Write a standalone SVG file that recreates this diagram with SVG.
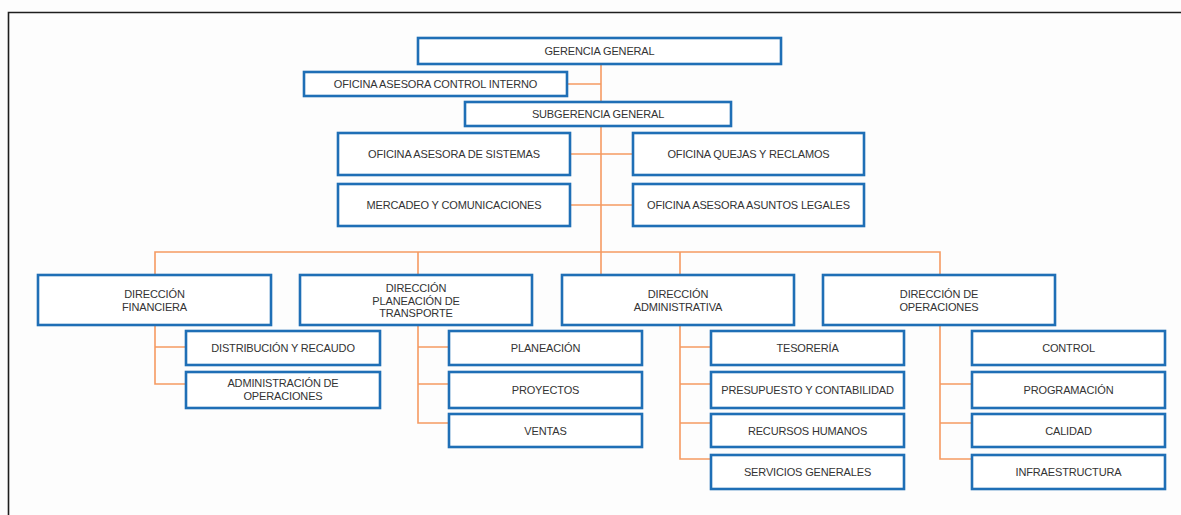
<svg xmlns="http://www.w3.org/2000/svg" width="1181" height="515" viewBox="0 0 1181 515">
<style>
.bx{fill:#ffffff;stroke:#1f6fb6;stroke-width:2.6}
.t{font-family:"Liberation Sans",Arial,sans-serif;font-size:11px;letter-spacing:-0.15px;fill:#333333;text-anchor:middle}
.c{fill:none;stroke:#f59a62;stroke-width:1.6}
</style>
<rect x="0" y="0" width="1181" height="515" fill="#fdfdfd"/>
<path d="M8.5 515 V12.5 H1181" fill="none" stroke="#1e1e1e" stroke-width="1.6"/>
<g id="connectors">
<path class="c" d="M601 64 V275"/>
<path class="c" d="M567 84 H601"/>
<path class="c" d="M570 154 H633 M570 205 H633"/>
<path class="c" d="M155 275 V252 H940 V275 M418 252 V275 M680 252 V275"/>
<path class="c" d="M155 325 V384 H186 M155 347 H186"/>
<path class="c" d="M418 325 V423 H449 M418 347 H449 M418 384 H449"/>
<path class="c" d="M680 325 V459 H711 M680 347 H711 M680 384 H711 M680 423 H711"/>
<path class="c" d="M940 325 V459 H972 M940 384 H972 M940 423 H972"/>
</g>
<g id="gerencia"><rect class="bx" x="418" y="38" width="363" height="26"/><text class="t" x="599.5" y="55">GERENCIA GENERAL</text></g>
<g id="control-interno"><rect class="bx" x="304" y="72" width="263" height="24"/><text class="t" x="435.5" y="88">OFICINA ASESORA CONTROL INTERNO</text></g>
<g id="subgerencia"><rect class="bx" x="465" y="102" width="266" height="24"/><text class="t" x="598" y="118">SUBGERENCIA GENERAL</text></g>
<g id="sistemas"><rect class="bx" x="338" y="133" width="232" height="42"/><text class="t" x="454" y="158">OFICINA ASESORA DE SISTEMAS</text></g>
<g id="quejas"><rect class="bx" x="633" y="133" width="231" height="42"/><text class="t" x="748.5" y="158">OFICINA QUEJAS Y RECLAMOS</text></g>
<g id="mercadeo"><rect class="bx" x="338" y="184" width="232" height="42"/><text class="t" x="454" y="209">MERCADEO Y COMUNICACIONES</text></g>
<g id="legales"><rect class="bx" x="633" y="184" width="231" height="42"/><text class="t" x="748.5" y="209">OFICINA ASESORA ASUNTOS LEGALES</text></g>
<g id="dir-financiera"><rect class="bx" x="38" y="275" width="233" height="50"/><text class="t" x="154.5" y="298">DIRECCIÓN</text><text class="t" x="154.5" y="310.5">FINANCIERA</text></g>
<g id="dir-planeacion"><rect class="bx" x="300" y="275" width="232" height="50"/><text class="t" x="416" y="292">DIRECCIÓN</text><text class="t" x="416" y="304.5">PLANEACIÓN DE</text><text class="t" x="416" y="317">TRANSPORTE</text></g>
<g id="dir-administrativa"><rect class="bx" x="562" y="275" width="232" height="50"/><text class="t" x="678" y="298">DIRECCIÓN</text><text class="t" x="678" y="310.5">ADMINISTRATIVA</text></g>
<g id="dir-operaciones"><rect class="bx" x="823" y="275" width="232" height="50"/><text class="t" x="939" y="298">DIRECCIÓN DE</text><text class="t" x="939" y="310.5">OPERACIONES</text></g>
<g id="distribucion"><rect class="bx" x="186" y="331" width="194" height="34"/><text class="t" x="283" y="352">DISTRIBUCIÓN Y RECAUDO</text></g>
<g id="admin-operaciones"><rect class="bx" x="186" y="372" width="194" height="36"/><text class="t" x="283" y="387">ADMINISTRACIÓN DE</text><text class="t" x="283" y="399.5">OPERACIONES</text></g>
<g id="planeacion"><rect class="bx" x="449" y="331" width="193" height="34"/><text class="t" x="545.5" y="352">PLANEACIÓN</text></g>
<g id="proyectos"><rect class="bx" x="449" y="372" width="193" height="36"/><text class="t" x="545.5" y="394">PROYECTOS</text></g>
<g id="ventas"><rect class="bx" x="449" y="414" width="193" height="33"/><text class="t" x="545.5" y="434.5">VENTAS</text></g>
<g id="tesoreria"><rect class="bx" x="711" y="331" width="193" height="34"/><text class="t" x="807.5" y="352">TESORERÍA</text></g>
<g id="presupuesto"><rect class="bx" x="711" y="372" width="193" height="36"/><text class="t" x="807.5" y="394">PRESUPUESTO Y CONTABILIDAD</text></g>
<g id="recursos"><rect class="bx" x="711" y="414" width="193" height="33"/><text class="t" x="807.5" y="434.5">RECURSOS HUMANOS</text></g>
<g id="servicios"><rect class="bx" x="711" y="455" width="193" height="34"/><text class="t" x="807.5" y="476">SERVICIOS GENERALES</text></g>
<g id="control"><rect class="bx" x="972" y="331" width="193" height="34"/><text class="t" x="1068.5" y="352">CONTROL</text></g>
<g id="programacion"><rect class="bx" x="972" y="372" width="193" height="36"/><text class="t" x="1068.5" y="394">PROGRAMACIÓN</text></g>
<g id="calidad"><rect class="bx" x="972" y="414" width="193" height="33"/><text class="t" x="1068.5" y="434.5">CALIDAD</text></g>
<g id="infraestructura"><rect class="bx" x="972" y="455" width="193" height="34"/><text class="t" x="1068.5" y="476">INFRAESTRUCTURA</text></g>
</svg>
